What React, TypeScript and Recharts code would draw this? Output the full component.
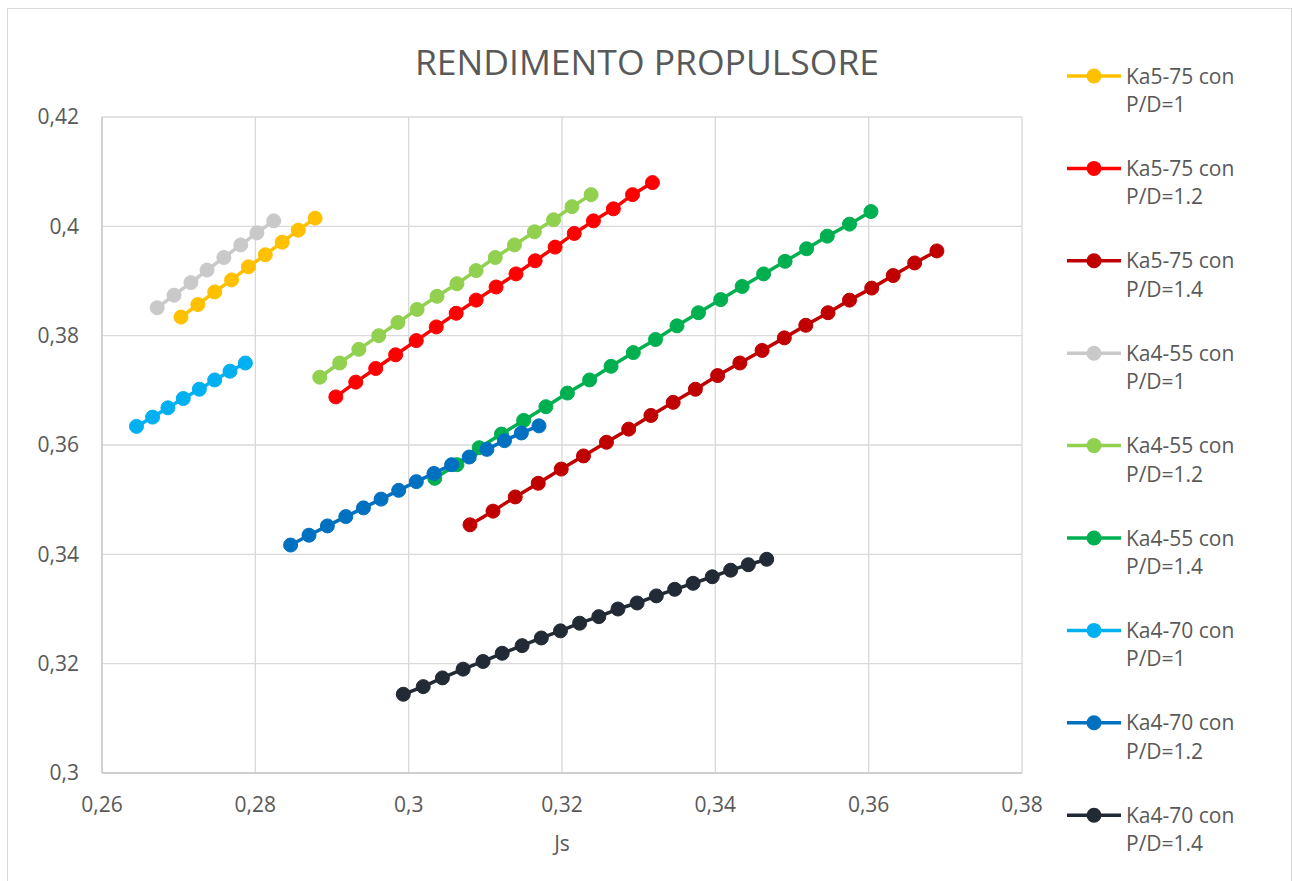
import React from 'react'
import { CartesianGrid, Line, LineChart, XAxis, YAxis } from 'recharts'

// Js (advance coefficient) and efficiency per propeller series
const JS_KA575_10 = [0.2703, 0.2725, 0.2747, 0.2769, 0.2791, 0.2813, 0.2835, 0.2856, 0.2878]
const ETA_KA575_10 = [0.3834, 0.3857, 0.388, 0.3902, 0.3926, 0.3948, 0.3971, 0.3993, 0.4015]

const JS_KA575_12 = [
  0.2905, 0.2931, 0.2957, 0.2983, 0.301, 0.3036, 0.3062, 0.3088, 0.3114, 0.314, 0.3165, 0.3191,
  0.3216, 0.3241, 0.3267, 0.3292, 0.3318
]
const ETA_KA575_12 = [
  0.3688, 0.3715, 0.374, 0.3765, 0.3791, 0.3816, 0.3841, 0.3865, 0.3889, 0.3913, 0.3937, 0.3962,
  0.3987, 0.401, 0.4032, 0.4058, 0.408
]

const JS_KA575_14 = [
  0.308, 0.311, 0.3139, 0.3169, 0.3199, 0.3228, 0.3258, 0.3287, 0.3316, 0.3345, 0.3374, 0.3403,
  0.3432, 0.3461, 0.349, 0.3518, 0.3547, 0.3575, 0.3604, 0.3632, 0.366, 0.3689
]
const ETA_KA575_14 = [
  0.3454, 0.3479, 0.3505, 0.353, 0.3556, 0.358, 0.3605, 0.3629, 0.3654, 0.3678, 0.3702, 0.3727,
  0.375, 0.3773, 0.3796, 0.3819, 0.3842, 0.3865, 0.3887, 0.391, 0.3933, 0.3955
]

const JS_KA455_10 = [0.2672, 0.2694, 0.2716, 0.2737, 0.2759, 0.2781, 0.2802, 0.2824]
const ETA_KA455_10 = [0.3851, 0.3874, 0.3897, 0.392, 0.3943, 0.3966, 0.3988, 0.401]

const JS_KA455_12 = [
  0.2884, 0.291, 0.2935, 0.2961, 0.2986, 0.3011, 0.3037, 0.3063, 0.3088, 0.3113, 0.3138, 0.3164,
  0.3189, 0.3213, 0.3238
]
const ETA_KA455_12 = [
  0.3724, 0.375, 0.3775, 0.38, 0.3824, 0.3848, 0.3872, 0.3895, 0.3919, 0.3943, 0.3966, 0.399,
  0.4012, 0.4036, 0.4058
]

const JS_KA455_14 = [
  0.3034, 0.3063, 0.3092, 0.3121, 0.315, 0.3179, 0.3207, 0.3236, 0.3264, 0.3293, 0.3322, 0.335,
  0.3378, 0.3407, 0.3435, 0.3463, 0.3491, 0.3519, 0.3546, 0.3575, 0.3603
]
const ETA_KA455_14 = [
  0.3539, 0.3564, 0.3595, 0.362, 0.3645, 0.367, 0.3695, 0.3719, 0.3744, 0.3769, 0.3793, 0.3818,
  0.3842, 0.3866, 0.389, 0.3913, 0.3936, 0.3959, 0.3982, 0.4004, 0.4027
]

const JS_KA470_10 = [0.2645, 0.2666, 0.2686, 0.2706, 0.2727, 0.2747, 0.2767, 0.2787]
const ETA_KA470_10 = [0.3634, 0.3651, 0.3668, 0.3685, 0.3702, 0.3719, 0.3735, 0.375]

const JS_KA470_12 = [
  0.2846, 0.287, 0.2894, 0.2918, 0.2941, 0.2964, 0.2987, 0.301, 0.3033, 0.3056, 0.3079, 0.3102,
  0.3125, 0.3147, 0.317
]
const ETA_KA470_12 = [
  0.3417, 0.3435, 0.3452, 0.3469, 0.3485, 0.3501, 0.3517, 0.3533, 0.3548, 0.3564, 0.3578, 0.3592,
  0.3608, 0.3622, 0.3635
]

const JS_KA470_14 = [
  0.2993, 0.3019, 0.3044, 0.3071, 0.3097, 0.3122, 0.3148, 0.3173, 0.3198, 0.3223, 0.3248, 0.3273,
  0.3298, 0.3323, 0.3347, 0.3371, 0.3396, 0.342, 0.3443, 0.3467
]
const ETA_KA470_14 = [
  0.3144, 0.3158, 0.3174, 0.319, 0.3204, 0.3219, 0.3233, 0.3247, 0.326, 0.3274, 0.3286, 0.33,
  0.3311, 0.3324, 0.3336, 0.3347, 0.3359, 0.3371, 0.3381, 0.3391
]

const X_TICKS = [0.26, 0.28, 0.3, 0.32, 0.34, 0.36, 0.38]
const Y_TICKS = [0.3, 0.32, 0.34, 0.36, 0.38, 0.4, 0.42]

const SERIES = [
  { model: 'Ka5-75 con', pd: 'P/D=1', color: '#FFC000', js: JS_KA575_10, eta: ETA_KA575_10 },
  { model: 'Ka5-75 con', pd: 'P/D=1.2', color: '#FF0000', js: JS_KA575_12, eta: ETA_KA575_12 },
  { model: 'Ka5-75 con', pd: 'P/D=1.4', color: '#C00000', js: JS_KA575_14, eta: ETA_KA575_14 },
  { model: 'Ka4-55 con', pd: 'P/D=1', color: '#C9C9C9', js: JS_KA455_10, eta: ETA_KA455_10 },
  { model: 'Ka4-55 con', pd: 'P/D=1.2', color: '#92D050', js: JS_KA455_12, eta: ETA_KA455_12 },
  { model: 'Ka4-55 con', pd: 'P/D=1.4', color: '#00B050', js: JS_KA455_14, eta: ETA_KA455_14 },
  { model: 'Ka4-70 con', pd: 'P/D=1', color: '#00B0F0', js: JS_KA470_10, eta: ETA_KA470_10 },
  { model: 'Ka4-70 con', pd: 'P/D=1.2', color: '#0070C0', js: JS_KA470_12, eta: ETA_KA470_12 },
  { model: 'Ka4-70 con', pd: 'P/D=1.4', color: '#222A35', js: JS_KA470_14, eta: ETA_KA470_14 }
]

const FONT = '"Open Sans", "DejaVu Sans", sans-serif'
const TEXT = '#595959'
const comma = (v: number) => String(v).replace('.', ',')

export default function App() {
  return (
    <div
      style={{
        position: 'absolute',
        left: 0,
        top: 0,
        width: 1292,
        height: 881,
        overflow: 'hidden',
        background: '#fff',
        fontFamily: FONT
      }}
    >
      <div
        style={{
          position: 'absolute',
          left: 7,
          top: 8,
          width: 1283,
          height: 900,
          border: '1px solid #D9D9D9'
        }}
      />
      <div style={{ position: 'absolute', left: 0, top: 0 }}>
        <LineChart
          width={1292}
          height={881}
          margin={{ top: 117, right: 270, bottom: 68, left: 42 }}
        >
          <CartesianGrid stroke="#D9D9D9" strokeWidth={1.3} />
          <XAxis
            type="number"
            dataKey="x"
            domain={[0.26, 0.38]}
            ticks={X_TICKS}
            tickFormatter={comma}
            height={40}
            tickSize={0}
            tickMargin={24}
            tick={{ fill: TEXT, fontSize: 21 }}
            axisLine={{ stroke: '#C8C8C8', strokeWidth: 1.3 }}
            allowDataOverflow
          />
          <YAxis
            type="number"
            domain={[0.3, 0.42]}
            ticks={Y_TICKS}
            tickFormatter={comma}
            width={60}
            tickSize={0}
            tickMargin={23}
            tick={{ fill: TEXT, fontSize: 21 }}
            axisLine={{ stroke: '#C8C8C8', strokeWidth: 1.3 }}
            allowDataOverflow
          />
          {SERIES.map((s) => (
            <Line
              key={s.model + s.pd}
              data={s.js.map((x, i) => ({ x, y: s.eta[i] }))}
              dataKey="y"
              type="linear"
              stroke={s.color}
              strokeWidth={3.5}
              dot={{ r: 7, fill: s.color, stroke: s.color, strokeWidth: 1 }}
              activeDot={false}
              isAnimationActive={false}
            />
          ))}
        </LineChart>
      </div>
      <svg
        width={1292}
        height={881}
        style={{ position: 'absolute', left: 0, top: 0, pointerEvents: 'none' }}
      >
        <text x={647} y={75} textAnchor="middle" fill={TEXT} fontSize={35.5}>
          RENDIMENTO PROPULSORE
        </text>
        <text x={562} y={851} textAnchor="middle" fill={TEXT} fontSize={21}>
          Js
        </text>
        {SERIES.map((s, i) => {
          const cy = 76 + i * 92.4
          return (
            <g key={s.model + s.pd}>
              <line x1={1067} x2={1121} y1={cy} y2={cy} stroke={s.color} strokeWidth={3.5} />
              <circle cx={1094} cy={cy} r={7.5} fill={s.color} />
              <text x={1126} y={cy + 7.5} fill={TEXT} fontSize={21}>
                {s.model}
              </text>
              <text x={1126} y={cy + 36} fill={TEXT} fontSize={21}>
                {s.pd}
              </text>
            </g>
          )
        })}
      </svg>
    </div>
  )
}
